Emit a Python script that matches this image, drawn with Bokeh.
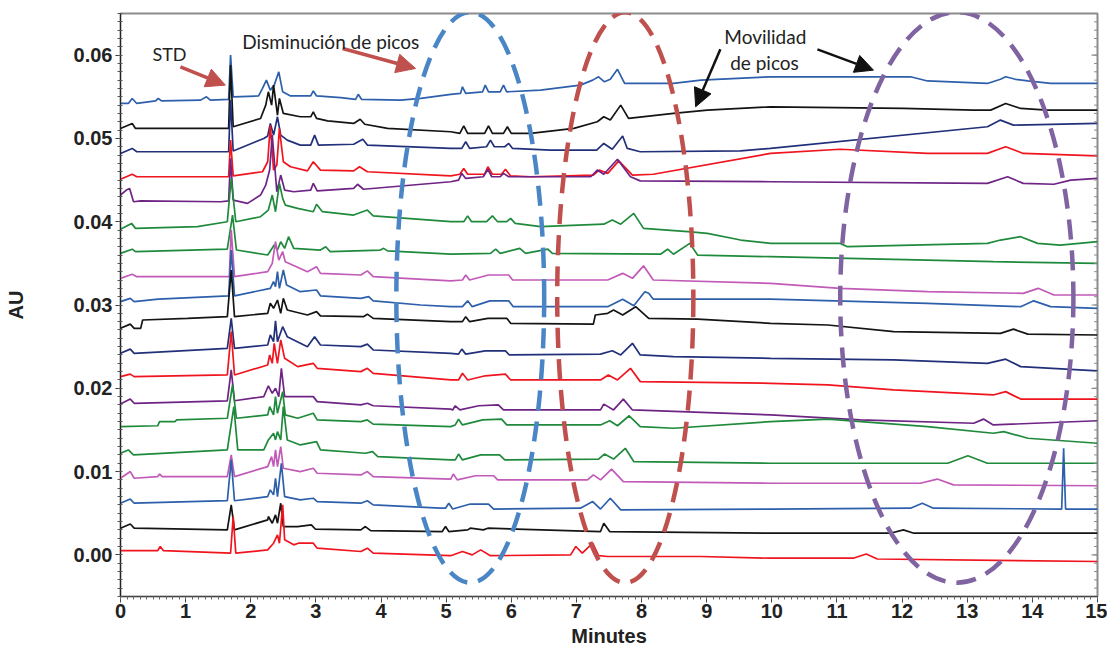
from bokeh.plotting import figure
from bokeh.models import Range1d, Arrow, NormalHead, Label, FixedTicker
from bokeh.embed import file_html
from bokeh.resources import INLINE

# ---------------- data (minutes, AU) ----------------
trace_01 = [(0,0.0542),(0.12,0.0542),(0.18,0.0548),(0.25,0.0542),(0.54,0.0545),(0.58,0.0548),(0.63,0.0545),(1.23,0.0546),(1.32,0.0550),(1.38,0.0546),(1.66,0.0547),(1.69,0.0600),(1.73,0.0550),(2.12,0.0551),(2.18,0.0560),(2.24,0.0570),(2.30,0.0558),(2.36,0.0564),(2.43,0.0580),(2.49,0.0556),(2.61,0.0551),(2.92,0.0551),(2.96,0.0557),(3.01,0.0551),(3.38,0.0549),(3.61,0.0547),(3.65,0.0553),(3.70,0.0547),(4.30,0.0546),(4.61,0.0548),(5.07,0.0553),(5.22,0.0554),(5.25,0.0562),(5.30,0.0554),(5.56,0.0556),(5.60,0.0564),(5.65,0.0556),(5.83,0.0556),(5.88,0.0564),(5.93,0.0556),(6.45,0.0558),(7.06,0.0564),(7.25,0.0570),(7.34,0.0574),(7.43,0.0568),(7.52,0.0571),(7.63,0.0583),(7.74,0.0566),(8.49,0.0566),(8.91,0.0570),(9.98,0.0574),(12.13,0.0574),(12.39,0.0569),(13.31,0.0566),(13.51,0.0571),(13.59,0.0574),(13.74,0.0571),(13.93,0.0569),(14.28,0.0566),(15,0.0566)]
trace_02 = [(0,0.0512),(0.18,0.0518),(0.23,0.0512),(1.66,0.0512),(1.69,0.0588),(1.73,0.0514),(2.15,0.0524),(2.23,0.0540),(2.27,0.0556),(2.32,0.0540),(2.35,0.0564),(2.41,0.0528),(2.44,0.0548),(2.50,0.0530),(2.76,0.0526),(2.92,0.0526),(2.96,0.0532),(3.01,0.0524),(3.18,0.0521),(3.58,0.0518),(3.68,0.0523),(3.75,0.0517),(4.10,0.0512),(5.07,0.0508),(5.21,0.0506),(5.27,0.0515),(5.33,0.0506),(5.59,0.0506),(5.65,0.0515),(5.71,0.0506),(5.88,0.0506),(5.94,0.0514),(6.00,0.0506),(6.30,0.0506),(6.96,0.0512),(7.32,0.0520),(7.42,0.0526),(7.52,0.0522),(7.68,0.0540),(7.80,0.0524),(8.49,0.0530),(9.01,0.0534),(9.98,0.0538),(12.02,0.0536),(13.10,0.0534),(13.36,0.0534),(13.59,0.0542),(13.82,0.0536),(14.23,0.0534),(15,0.0534)]
trace_03 = [(0,0.0482),(0.18,0.0488),(0.25,0.0484),(1.66,0.0484),(1.69,0.0546),(1.73,0.0485),(2.20,0.0500),(2.26,0.0503),(2.30,0.0518),(2.35,0.0504),(2.41,0.0526),(2.46,0.0504),(2.56,0.0498),(2.76,0.0492),(2.92,0.0492),(2.98,0.0504),(3.04,0.0492),(3.58,0.0493),(3.72,0.0499),(3.79,0.0492),(5.07,0.0488),(5.24,0.0488),(5.30,0.0496),(5.36,0.0488),(5.62,0.0490),(5.68,0.0498),(5.74,0.0490),(5.90,0.0490),(5.96,0.0494),(6.02,0.0488),(6.60,0.0486),(7.31,0.0486),(7.42,0.0494),(7.55,0.0487),(7.71,0.0503),(7.78,0.0488),(7.98,0.0484),(9.52,0.0485),(9.98,0.0488),(13.31,0.0514),(13.51,0.0522),(13.71,0.0516),(15,0.0518)]
trace_04 = [(0,0.0451),(0.18,0.0457),(0.25,0.0454),(1.66,0.0454),(1.69,0.0498),(1.73,0.0455),(2.18,0.0460),(2.26,0.0472),(2.30,0.0516),(2.35,0.0462),(2.40,0.0468),(2.44,0.0512),(2.50,0.0472),(2.61,0.0466),(2.87,0.0461),(2.96,0.0472),(3.07,0.0462),(3.58,0.0461),(3.67,0.0466),(3.79,0.0460),(5.07,0.0455),(5.21,0.0457),(5.27,0.0464),(5.33,0.0457),(5.59,0.0457),(5.64,0.0466),(5.71,0.0457),(5.85,0.0457),(5.91,0.0463),(5.99,0.0455),(6.30,0.0454),(7.26,0.0456),(7.35,0.0462),(7.48,0.0458),(7.65,0.0473),(7.86,0.0456),(8.18,0.0457),(9.98,0.0482),(11.05,0.0487),(12.39,0.0482),(13.31,0.0482),(13.59,0.0490),(13.86,0.0482),(15,0.0479)]
trace_05 = [(0,0.0432),(0.09,0.0438),(0.14,0.0440),(0.20,0.0424),(0.31,0.0425),(1.54,0.0424),(1.66,0.0425),(1.69,0.0476),(1.73,0.0426),(1.95,0.0422),(2.15,0.0432),(2.23,0.0444),(2.29,0.0462),(2.33,0.0504),(2.40,0.0436),(2.46,0.0456),(2.52,0.0438),(2.66,0.0436),(2.92,0.0438),(2.96,0.0446),(3.02,0.0437),(3.58,0.0440),(3.64,0.0445),(3.73,0.0439),(5.07,0.0448),(5.19,0.0450),(5.24,0.0458),(5.30,0.0452),(5.57,0.0454),(5.64,0.0463),(5.70,0.0454),(5.83,0.0454),(5.88,0.0458),(5.96,0.0454),(7.22,0.0454),(7.32,0.0462),(7.42,0.0457),(7.63,0.0475),(7.83,0.0454),(7.98,0.0449),(9.98,0.0448),(13.31,0.0446),(13.62,0.0454),(13.86,0.0446),(14.33,0.0445),(14.59,0.0450),(15,0.0452)]
trace_06 = [(0,0.0391),(0.17,0.0398),(0.23,0.0392),(1.18,0.0394),(1.64,0.0400),(1.70,0.0452),(1.77,0.0400),(2.15,0.0406),(2.27,0.0414),(2.33,0.0432),(2.38,0.0412),(2.44,0.0446),(2.49,0.0428),(2.53,0.0420),(2.72,0.0416),(2.96,0.0412),(3.01,0.0421),(3.10,0.0412),(3.58,0.0408),(3.79,0.0414),(3.88,0.0407),(5.07,0.0400),(5.27,0.0400),(5.33,0.0407),(5.39,0.0400),(5.62,0.0400),(5.71,0.0407),(5.79,0.0400),(5.93,0.0400),(5.99,0.0404),(6.06,0.0398),(6.45,0.0394),(7.42,0.0397),(7.55,0.0402),(7.68,0.0397),(7.88,0.0410),(8.03,0.0392),(8.71,0.0388),(9.01,0.0386),(9.52,0.0378),(9.98,0.0374),(11.05,0.0374),(11.16,0.0370),(13.31,0.0374),(13.51,0.0378),(13.82,0.0382),(14.08,0.0374),(14.43,0.0372),(15,0.0376)]
trace_07 = [(0,0.0362),(0.18,0.0367),(0.23,0.0364),(1.64,0.0367),(1.72,0.0408),(1.78,0.0366),(2.26,0.0360),(2.36,0.0372),(2.41,0.0366),(2.46,0.0376),(2.52,0.0368),(2.58,0.0382),(2.66,0.0368),(3.07,0.0366),(3.15,0.0370),(3.22,0.0364),(3.99,0.0366),(4.04,0.0368),(4.10,0.0365),(5.07,0.0361),(5.68,0.0362),(5.76,0.0367),(5.83,0.0362),(6.13,0.0368),(6.22,0.0362),(6.56,0.0367),(6.63,0.0362),(8.29,0.0361),(8.40,0.0367),(8.49,0.0361),(8.74,0.0374),(8.86,0.0360),(9.98,0.0358),(12.39,0.0354),(13.40,0.0352),(15,0.0350)]
trace_08 = [(0,0.0332),(0.18,0.0337),(0.25,0.0334),(1.67,0.0334),(1.70,0.0390),(1.75,0.0334),(2.26,0.0340),(2.33,0.0350),(2.38,0.0376),(2.43,0.0354),(2.49,0.0364),(2.53,0.0352),(2.87,0.0340),(3.01,0.0346),(3.07,0.0338),(3.69,0.0336),(3.79,0.0341),(3.88,0.0334),(5.07,0.0329),(5.25,0.0330),(5.30,0.0336),(5.36,0.0330),(5.65,0.0336),(5.96,0.0336),(6.02,0.0330),(7.48,0.0330),(7.71,0.0338),(7.86,0.0332),(8.03,0.0347),(8.18,0.0330),(9.98,0.0326),(11.05,0.0320),(12.39,0.0316),(13.86,0.0314),(14.09,0.0320),(14.33,0.0312),(15,0.0312)]
trace_09 = [(0,0.0304),(0.15,0.0308),(0.21,0.0304),(0.58,0.0307),(1.66,0.0311),(1.70,0.0366),(1.75,0.0311),(2.30,0.0320),(2.35,0.0328),(2.38,0.0322),(2.41,0.0340),(2.44,0.0320),(2.50,0.0342),(2.55,0.0324),(2.76,0.0316),(3.01,0.0318),(3.07,0.0311),(3.69,0.0308),(3.81,0.0310),(3.88,0.0305),(4.61,0.0300),(5.07,0.0298),(5.25,0.0298),(5.33,0.0305),(5.40,0.0298),(5.67,0.0305),(5.96,0.0305),(6.03,0.0298),(7.48,0.0298),(7.71,0.0307),(7.88,0.0299),(8.05,0.0316),(8.11,0.0314),(8.18,0.0307),(9.98,0.0307),(12.39,0.0302),(13.82,0.0298),(14.02,0.0305),(14.28,0.0298),(15,0.0296)]
trace_10 = [(0,0.0272),(0.15,0.0277),(0.21,0.0272),(0.31,0.0272),(0.34,0.0282),(1.03,0.0284),(1.64,0.0286),(1.70,0.0342),(1.75,0.0286),(2.26,0.0290),(2.30,0.0302),(2.35,0.0296),(2.41,0.0306),(2.46,0.0290),(2.50,0.0308),(2.56,0.0294),(2.87,0.0288),(3.01,0.0292),(3.07,0.0287),(3.73,0.0286),(3.79,0.0289),(3.88,0.0284),(5.07,0.0280),(5.25,0.0280),(5.30,0.0286),(5.36,0.0280),(5.64,0.0284),(5.93,0.0284),(5.99,0.0278),(7.26,0.0277),(7.29,0.0288),(7.48,0.0290),(7.57,0.0294),(7.71,0.0288),(7.91,0.0298),(8.11,0.0284),(8.86,0.0283),(9.98,0.0278),(10.86,0.0276),(11.87,0.0268),(13.51,0.0266),(13.71,0.0271),(13.93,0.0265),(15,0.0264)]
trace_11 = [(0,0.0242),(0.15,0.0247),(0.21,0.0242),(1.64,0.0248),(1.70,0.0284),(1.75,0.0248),(2.26,0.0252),(2.30,0.0264),(2.35,0.0256),(2.38,0.0281),(2.41,0.0256),(2.49,0.0274),(2.56,0.0262),(2.87,0.0250),(2.98,0.0262),(3.07,0.0252),(3.69,0.0250),(3.79,0.0253),(3.88,0.0246),(5.07,0.0242),(5.19,0.0241),(5.24,0.0247),(5.30,0.0241),(5.60,0.0245),(5.91,0.0245),(5.97,0.0240),(7.37,0.0241),(7.55,0.0245),(7.68,0.0240),(7.86,0.0254),(7.98,0.0240),(8.49,0.0238),(9.98,0.0236),(11.87,0.0234),(13.31,0.0230),(13.59,0.0235),(13.82,0.0226),(15,0.0221)]
trace_12 = [(0,0.0214),(0.15,0.0217),(0.21,0.0214),(1.64,0.0216),(1.70,0.0268),(1.75,0.0216),(2.26,0.0228),(2.29,0.0240),(2.33,0.0230),(2.36,0.0254),(2.41,0.0230),(2.46,0.0258),(2.52,0.0236),(2.72,0.0226),(2.96,0.0230),(3.02,0.0224),(3.69,0.0220),(3.79,0.0224),(3.88,0.0218),(5.07,0.0210),(5.19,0.0210),(5.25,0.0218),(5.33,0.0210),(5.60,0.0215),(5.91,0.0217),(5.99,0.0210),(7.37,0.0210),(7.49,0.0216),(7.63,0.0210),(7.83,0.0224),(7.98,0.0208),(9.98,0.0206),(10.86,0.0204),(11.87,0.0198),(13.40,0.0192),(13.59,0.0196),(13.82,0.0187),(15,0.0187)]
trace_13 = [(0,0.0181),(0.15,0.0187),(0.21,0.0182),(1.64,0.0185),(1.70,0.0222),(1.75,0.0185),(2.20,0.0190),(2.27,0.0203),(2.33,0.0194),(2.38,0.0200),(2.43,0.0190),(2.47,0.0224),(2.52,0.0190),(2.96,0.0190),(3.02,0.0184),(3.69,0.0180),(3.79,0.0182),(3.88,0.0179),(5.07,0.0175),(5.10,0.0174),(5.14,0.0179),(5.21,0.0174),(5.50,0.0179),(5.80,0.0180),(5.88,0.0174),(7.37,0.0174),(7.42,0.0181),(7.57,0.0174),(7.72,0.0187),(7.86,0.0174),(9.98,0.0168),(11.36,0.0162),(13.10,0.0158),(13.25,0.0163),(13.40,0.0156),(15,0.0161)]
trace_14 = [(0,0.0154),(0.57,0.0155),(0.60,0.0160),(0.84,0.0160),(0.86,0.0162),(1.64,0.0164),(1.72,0.0204),(1.78,0.0164),(2.26,0.0168),(2.29,0.0178),(2.35,0.0168),(2.38,0.0190),(2.41,0.0170),(2.49,0.0196),(2.53,0.0168),(2.72,0.0164),(2.96,0.0170),(3.02,0.0162),(3.69,0.0160),(3.79,0.0162),(3.88,0.0157),(5.07,0.0154),(5.14,0.0156),(5.19,0.0163),(5.25,0.0156),(5.56,0.0162),(5.85,0.0163),(5.93,0.0156),(7.37,0.0156),(7.51,0.0161),(7.63,0.0155),(7.81,0.0167),(7.98,0.0154),(8.49,0.0152),(9.98,0.0160),(10.86,0.0163),(12.39,0.0154),(13.40,0.0146),(13.56,0.0148),(13.93,0.0140),(15,0.0134)]
trace_15 = [(0,0.0122),(0.12,0.0126),(0.20,0.0120),(1.64,0.0126),(1.74,0.0178),(1.80,0.0126),(2.20,0.0126),(2.27,0.0138),(2.35,0.0146),(2.38,0.0138),(2.41,0.0148),(2.46,0.0138),(2.50,0.0178),(2.56,0.0138),(2.76,0.0132),(3.01,0.0136),(3.07,0.0126),(3.76,0.0122),(3.87,0.0124),(3.95,0.0118),(5.07,0.0114),(5.14,0.0114),(5.19,0.0121),(5.25,0.0114),(5.53,0.0120),(5.82,0.0120),(5.90,0.0114),(7.34,0.0115),(7.43,0.0121),(7.57,0.0115),(7.75,0.0128),(7.88,0.0112),(9.98,0.0110),(12.70,0.0110),(13.01,0.0119),(13.31,0.0110),(15,0.0110)]
trace_16 = [(0,0.0092),(0.15,0.0100),(0.21,0.0092),(0.57,0.0094),(0.60,0.0097),(0.64,0.0094),(1.64,0.0094),(1.70,0.0120),(1.75,0.0094),(2.26,0.0106),(2.32,0.0118),(2.35,0.0106),(2.38,0.0126),(2.41,0.0106),(2.46,0.0130),(2.50,0.0104),(2.76,0.0100),(2.96,0.0104),(3.02,0.0098),(3.69,0.0096),(3.79,0.0100),(3.88,0.0094),(5.07,0.0091),(5.11,0.0097),(5.17,0.0090),(5.45,0.0095),(5.73,0.0095),(5.79,0.0090),(7.17,0.0090),(7.26,0.0096),(7.37,0.0090),(7.54,0.0103),(7.72,0.0088),(9.98,0.0086),(12.28,0.0086),(12.54,0.0091),(12.79,0.0084),(15,0.0083)]
trace_17 = [(0,0.0062),(0.15,0.0067),(0.21,0.0062),(1.64,0.0065),(1.70,0.0114),(1.75,0.0065),(2.26,0.0070),(2.30,0.0078),(2.35,0.0072),(2.38,0.0092),(2.41,0.0070),(2.47,0.0110),(2.52,0.0070),(2.76,0.0066),(2.96,0.0068),(3.02,0.0064),(3.69,0.0062),(3.79,0.0065),(3.88,0.0060),(4.91,0.0056),(4.99,0.0056),(5.04,0.0062),(5.10,0.0055),(5.37,0.0061),(5.65,0.0061),(5.73,0.0055),(7.06,0.0056),(7.25,0.0064),(7.37,0.0055),(7.52,0.0068),(7.68,0.0054),(9.98,0.0055),(12.13,0.0056),(12.31,0.0062),(12.48,0.0056),(14.45,0.0055),(14.48,0.0128),(14.51,0.0055),(15,0.0055)]
trace_18 = [(0,0.0032),(0.15,0.0037),(0.21,0.0032),(1.64,0.0030),(1.70,0.0060),(1.75,0.0030),(2.26,0.0042),(2.27,0.0046),(2.33,0.0038),(2.38,0.0048),(2.41,0.0038),(2.46,0.0062),(2.50,0.0034),(2.72,0.0034),(2.93,0.0036),(2.99,0.0031),(3.69,0.0030),(3.76,0.0034),(3.84,0.0029),(4.94,0.0028),(4.99,0.0034),(5.04,0.0028),(5.33,0.0030),(5.37,0.0032),(5.57,0.0030),(5.64,0.0032),(7.37,0.0028),(7.42,0.0038),(7.51,0.0028),(9.98,0.0026),(11.82,0.0026),(12.02,0.0030),(12.18,0.0026),(15,0.0026)]
trace_19 = [(0,0.0005),(0.57,0.0005),(0.61,0.0010),(0.66,0.0005),(1.69,0.0002),(1.73,0.0046),(1.77,0.0002),(2.26,0.0006),(2.35,0.0014),(2.41,0.0024),(2.44,0.0014),(2.49,0.0060),(2.52,0.0018),(2.66,0.0012),(2.73,0.0014),(2.96,0.0014),(3.02,0.0008),(3.69,0.0004),(3.79,0.0008),(3.88,0.0002),(5.07,-0.0001),(5.25,0.0004),(5.40,0.0000),(5.53,0.0006),(5.68,-0.0001),(6.91,0.0000),(6.99,0.0010),(7.09,0.0002),(7.25,0.0014),(7.34,-0.0001),(7.48,-0.0002),(8.91,-0.0002),(9.98,-0.0004),(11.25,-0.0004),(11.45,0.0001),(11.62,-0.0005),(15,-0.0008)]

traces = [trace_01, trace_02, trace_03, trace_04, trace_05, trace_06, trace_07, trace_08, trace_09, trace_10,
          trace_11, trace_12, trace_13, trace_14, trace_15, trace_16, trace_17, trace_18, trace_19]
trace_colors = ["#2d5fab", "#141414", "#22307a", "#f0141e", "#6e2484", "#1f8a3b", "#1f8a3b", "#c25ab8", "#2d5fab", "#141414",
                "#22307a", "#f0141e", "#6e2484", "#1f8a3b", "#1f8a3b", "#c25ab8", "#2d5fab", "#141414", "#f0141e"]

x_range_min, x_range_max = 0, 15
y_range_min, y_range_max = -0.005, 0.065
x_ticks = list(range(0, 16))
x_minor_ticks = [i / 10 for i in range(0, 151)]
y_ticks = [0.00, 0.01, 0.02, 0.03, 0.04, 0.05, 0.06]
y_minor_ticks = [i / 1000 for i in range(-5, 66)]
y_tick_labels = ["0.00", "0.01", "0.02", "0.03", "0.04", "0.05", "0.06"]

ellipse_x = [5.37, 7.75, 12.84]
ellipse_y = [0.0309, 0.0309, 0.0309]
ellipse_w = [2.27, 2.09, 3.58]
ellipse_h = [0.0685, 0.0685, 0.0685]
ellipse_colors = ["#4a86c6", "#c0504d", "#8064a2"]

# ---------------- figure ----------------
p = figure(width=1107, height=652, output_backend="svg", toolbar_location=None,
           x_range=Range1d(x_range_min, x_range_max), y_range=Range1d(y_range_min, y_range_max),
           min_border_left=120, min_border_right=10, min_border_top=13, min_border_bottom=56)
p.grid.visible = False
p.outline_line_color = "#8c8c8c"
p.outline_line_width = 2
p.background_fill_color = "white"
p.border_fill_color = "white"

for tr, col in zip(traces, trace_colors):
    xs = [pt[0] for pt in tr]
    ys = [pt[1] for pt in tr]
    p.line(xs, ys, line_color=col, line_width=1.7)

p.ellipse(x=ellipse_x, y=ellipse_y, width=ellipse_w, height=ellipse_h,
          fill_alpha=0, line_color=ellipse_colors, line_width=4.5, line_dash="20 11")

# right-edge ticks (inward only; the outward half is clipped by the frame)
p.dash(x=[x_range_max] * len(y_ticks), y=y_ticks, size=12, line_color="#8c8c8c", line_width=1.2)
p.dash(x=[x_range_max] * len(y_minor_ticks), y=y_minor_ticks, size=7, line_color="#8c8c8c", line_width=1)

# axes
xa = p.xaxis[0]
xa.ticker = FixedTicker(ticks=x_ticks, minor_ticks=x_minor_ticks)
xa.axis_label = "Minutes"
xa.axis_label_text_font = "Liberation Sans"
xa.axis_label_text_font_style = "bold"
xa.axis_label_text_font_size = "20px"
xa.axis_label_text_color = "#222222"
xa.axis_label_standoff = 4
xa.major_label_text_font = "Liberation Sans"
xa.major_label_text_font_style = "bold"
xa.major_label_text_font_size = "20px"
xa.major_label_text_color = "#222222"
xa.major_label_standoff = 1
xa.axis_line_color = "#444444"
xa.major_tick_line_color = "#444444"
xa.minor_tick_line_color = "#666666"
xa.major_tick_out = 6
xa.major_tick_in = 0
xa.minor_tick_out = 3
xa.minor_tick_in = 0

ya = p.yaxis[0]
ya.ticker = FixedTicker(ticks=y_ticks, minor_ticks=y_minor_ticks)
ya.major_label_overrides = {t: l for t, l in zip(y_ticks, y_tick_labels)}
ya.axis_label = "AU"
ya.axis_label_text_font = "Liberation Sans"
ya.axis_label_text_font_style = "bold"
ya.axis_label_text_font_size = "20px"
ya.axis_label_text_color = "#222222"
ya.axis_label_standoff = 44
ya.major_label_text_font = "Liberation Sans"
ya.major_label_text_font_style = "bold"
ya.major_label_text_font_size = "20px"
ya.major_label_text_color = "#222222"
ya.major_label_standoff = 3
ya.axis_line_color = "#222222"
ya.major_tick_line_color = "#333333"
ya.minor_tick_line_color = "#555555"
ya.major_tick_out = 5
ya.major_tick_in = 0
ya.minor_tick_out = 3
ya.minor_tick_in = 2

# annotations
red_arrow = "#c0504d"
p.add_layout(Arrow(end=NormalHead(size=19, fill_color=red_arrow, line_color=red_arrow),
                   x_start=0.92, y_start=0.0586, x_end=1.61, y_end=0.0564,
                   line_color=red_arrow, line_width=3.5))
p.add_layout(Arrow(end=NormalHead(size=19, fill_color=red_arrow, line_color=red_arrow),
                   x_start=3.41, y_start=0.0608, x_end=4.53, y_end=0.0584,
                   line_color=red_arrow, line_width=3.5))
p.add_layout(Arrow(end=NormalHead(size=18, fill_color="#111111", line_color="#111111"),
                   x_start=9.21, y_start=0.0607, x_end=8.83, y_end=0.0538,
                   line_color="#111111", line_width=2.5))
p.add_layout(Arrow(end=NormalHead(size=18, fill_color="#111111", line_color="#111111"),
                   x_start=10.70, y_start=0.0607, x_end=11.56, y_end=0.0582,
                   line_color="#111111", line_width=2.5))

for txt, xx, yy, fs in [("STD", 0.49, 0.0588, "18px"), ("Disminución de picos", 1.87, 0.0602, "19px"),
                        ("Movilidad", 9.27, 0.0608, "19px"), ("de picos", 9.36, 0.0577, "19px")]:
    p.add_layout(Label(x=xx, y=yy, text=txt, text_font="Lato", text_font_size=fs,
                       text_color="#222222"))

open("out.html", "w").write(file_html(p, INLINE))
